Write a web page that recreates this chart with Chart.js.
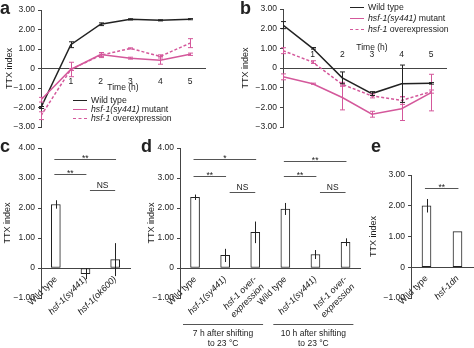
<!DOCTYPE html>
<html>
<head>
<meta charset="utf-8">
<script src="https://cdn.jsdelivr.net/npm/chart.js@4.4.1/dist/chart.umd.min.js"></script>
<style>
  html, body { margin: 0; padding: 0; background: #fff; }
  #fig { position: relative; width: 474px; height: 348px; overflow: hidden;
         font-family: 'Liberation Sans', Arial, sans-serif; color: #222; }
  #fig canvas { position: absolute; }
  .panel { position: absolute; font-weight: bold; font-size: 18px; line-height: 18px; }
  .txt { position: absolute; font-size: 8.5px; line-height: 10px; white-space: nowrap; transform: translateX(-50%); }
  .key { position: absolute; font-size: 8.7px; white-space: pre; }
  .key .sw { display: inline-block; width: 14px; height: 0; border-top-width: 1.5px;
             margin-right: 4px; vertical-align: middle; }
</style>
</head>
<body>
<div id="fig">
  <canvas id="chartA" width="230" height="140" style="left:0;top:0"></canvas>
  <canvas id="chartB" width="240" height="140" style="left:234px;top:0"></canvas>
  <canvas id="chartC" width="135" height="208" style="left:0;top:140px"></canvas>
  <canvas id="chartD" width="232" height="208" style="left:135px;top:140px"></canvas>
  <canvas id="chartE" width="107" height="208" style="left:367px;top:140px"></canvas>

  <div class="panel" style="left:0;top:-1px">a</div>
  <div class="panel" style="left:240px;top:-1px">b</div>
  <div class="panel" style="left:0;top:137px">c</div>
  <div class="panel" style="left:141px;top:137px">d</div>
  <div class="panel" style="left:371px;top:137px">e</div>

  <div class="txt" style="left:123px;top:82px">Time (h)</div>
  <div class="txt" style="left:372px;top:42px">Time (h)</div>

  <div class="key" id="keyA" style="left:73px;top:96px;line-height:9px"></div>
  <div class="key" id="keyB" style="left:350px;top:2px;line-height:11px"></div>
</div>

<script>
// time course (h) and axis ticks
const hours = [0, 1, 2, 3, 4, 5];
const hourTicks = [1, 2, 3, 4, 5];
const lineTicks = [3, 2, 1, 0, -1, -2, -3];
const barTicks = [4, 3, 2, 1, 0, -1];
const eTicks = [3, 2, 1, 0, -1];

const seriesNames = ['Wild type', 'hsf-1(sy441) mutant', 'hsf-1 overexpression'];

// a: TTX index over time
const aWild = [-2.0, 1.22, 2.27, 2.52, 2.47, 2.53];
const aWildErr = [0.05, 0.15, 0.07, 0.03, 0.03, 0.03];
const aMutant = [-1.6, -0.05, 0.72, 0.53, 0.42, 0.73];
const aMutantErr = [0.12, 0.05, 0.1, 0.05, 0.2, 0.06];
const aOver = [-2.42, -0.05, 0.68, 1.03, 0.62, 1.3];
const aOverErr = [0.2, 0.37, 0.12, 0.03, 0.08, 0.23];

// b: TTX index over time
const bWild = [2.18, 1.0, -0.5, -1.3, -0.8, -0.78];
const bWildErr = [0.18, 0.04, 0.3, 0.1, 0.95, 0.04];
const bMutant = [-0.45, -0.8, -1.5, -2.35, -2.07, -1.25];
const bMutantErr = [0.15, 0.03, 0.63, 0.15, 0.6, 0.93];
const bOver = [0.88, 0.3, -0.83, -1.42, -1.65, -1.2];
const bOverErr = [0.15, 0.07, 0.1, 0.1, 0.2, 0.08];

// c
const cLabels = ['Wild type', 'hsf-1(sy441)', 'hsf-1(ok600)'];
const cValues = [2.12, -0.19, 0.28];
const cErr = [0.14, 0.18, 0.55];
const cSig = [['**', 0, 2], ['**', 0, 1], ['NS', 1, 2]];

// d
const dLabels = ['Wild type', 'hsf-1(sy441)', ['hsf-1 over-', 'expression'],
                 'Wild type', 'hsf-1(sy441)', ['hsf-1 over-', 'expression']];
const dValues = [2.36, 0.42, 1.19, 1.97, 0.45, 0.86];
const dErr = [0.09, 0.22, 0.36, 0.2, 0.15, 0.13];
const dSig = [['*', 0, 2], ['**', 0, 1], ['NS', 1, 2], ['**', 3, 5], ['**', 3, 4], ['NS', 4, 5]];
const dGroups = [[0, 2, ['7 h after shifting', 'to 23 °C']], [3, 5, ['10 h after shifting', 'to 23 °C']]];

// e
const eLabels = ['Wild type', 'hsf-1dn'];
const eValues = [2.0, 1.16];
const eErr = [0.22, 0];
const eSig = [['**', 0, 1]];

const family = "'Liberation Sans', Arial, sans-serif";
const ink = '#222';
const axisInk = '#444';
const pink = '#d4589b';
const seriesColors = [ink, pink, pink];
const seriesDash = [[], [], [3, 2]];
const tickFont = { family, size: 8.5 };

const fmt = v => v === 0 ? '0' : (v < 0 ? '\u2212' : '') + Math.abs(v).toFixed(2);

function yAxis(min, max, ticks, width, titlePad) {
  return {
    min, max,
    afterBuildTicks: s => { s.ticks = ticks.map(v => ({ value: v })); },
    afterFit: s => { s.width = width; },
    grid: { display: true, drawOnChartArea: false, drawTicks: true, tickLength: 3, color: axisInk },
    border: { color: axisInk, width: 1 },
    ticks: { font: tickFont, color: ink, padding: 3, callback: fmt },
    title: { display: true, text: 'TTX index', color: ink, font: { family, size: 9 },
             padding: { top: titlePad, bottom: 0 } }
  };
}

function hourAxis(labelPad) {
  return {
    type: 'linear', min: 0, max: 5.5,
    position: { y: 0 },
    afterBuildTicks: s => { s.ticks = hourTicks.map(v => ({ value: v })); },
    grid: { display: false, drawTicks: false },
    border: { color: axisInk, width: 1 },
    ticks: { font: tickFont, color: ink, padding: labelPad, maxRotation: 0 }
  };
}

function catAxis() {
  return {
    position: { y: 0 },
    grid: { display: false, drawTicks: false },
    border: { color: axisInk, width: 1 },
    ticks: {
      color: ink, padding: 6, minRotation: 45, maxRotation: 45, autoSkip: false,
      font: c => ({ family, size: 9,
                    style: String(c.tick && c.tick.label).startsWith('hsf') ? 'italic' : 'normal' })
    }
  };
}

// vertical error bars with caps, in each dataset's colour
const lineErrorBars = {
  id: 'lineErrorBars',
  afterDatasetsDraw(chart) {
    const { ctx, scales: { x, y } } = chart;
    chart.data.datasets.forEach(ds => {
      ctx.save();
      ctx.strokeStyle = ds.borderColor;
      ctx.lineWidth = 1;
      ctx.beginPath();
      ds.data.forEach((pt, i) => {
        const err = ds.errors[i];
        const px = Math.round(x.getPixelForValue(pt.x)) + 0.5;
        const top = y.getPixelForValue(pt.y + err);
        const bot = y.getPixelForValue(pt.y - err);
        ctx.moveTo(px, top); ctx.lineTo(px, bot);
        ctx.moveTo(px - 2.5, top); ctx.lineTo(px + 2.5, top);
        ctx.moveTo(px - 2.5, bot); ctx.lineTo(px + 2.5, bot);
      });
      ctx.stroke();
      ctx.restore();
    });
  }
};

// error lines, significance bars and group captions for the bar panels
function barExtras(errors, sig, levels, groups) {
  return {
    id: 'barExtras',
    afterDatasetsDraw(chart) {
      const { ctx, chartArea } = chart;
      const x = chart.scales.x, y = chart.scales.y;
      const values = chart.data.datasets[0].data;
      ctx.save();
      ctx.strokeStyle = ink;
      ctx.lineWidth = 1;
      ctx.beginPath();
      errors.forEach((err, i) => {
        if (!err) return;
        const px = Math.round(x.getPixelForValue(i)) + 0.5;
        ctx.moveTo(px, y.getPixelForValue(values[i] + err));
        ctx.lineTo(px, y.getPixelForValue(values[i] - err));
      });
      ctx.stroke();

      ctx.strokeStyle = '#555';
      ctx.fillStyle = ink;
      ctx.font = `8.5px ${family}`;
      ctx.textAlign = 'center';
      ctx.textBaseline = 'alphabetic';
      sig.forEach(([text, a, b], k) => {
        const x1 = x.getPixelForValue(text === 'NS' ? a + 0.15 : a - 0.05);
        const x2 = x.getPixelForValue(text === 'NS' ? b : b + 0.03);
        const py = Math.round(y.getPixelForValue(levels[k])) + 0.5;
        ctx.beginPath(); ctx.moveTo(x1, py); ctx.lineTo(x2, py); ctx.stroke();
        ctx.fillText(text, (x1 + x2) / 2, text === 'NS' ? py - 3 : py + 1.5);
      });

      groups.forEach(([a, b, lines]) => {
        const x1 = x.getPixelForValue(a - 0.4);
        const x2 = x.getPixelForValue(b + 0.26);
        const py = Math.round(chartArea.bottom + 26) + 0.5;
        ctx.beginPath(); ctx.moveTo(x1, py); ctx.lineTo(x2, py); ctx.stroke();
        const cx = x.getPixelForValue((a + b) / 2 - 0.07);
        ctx.textBaseline = 'middle';
        lines.forEach((t, j) => ctx.fillText(t, cx, py + 9 + j * 10));
      });
      ctx.restore();
    }
  };
}

function timeSeries(values, errors, k) {
  return {
    label: seriesNames[k],
    data: hours.map((h, i) => ({ x: h, y: values[i] })),
    errors,
    borderColor: seriesColors[k],
    borderDash: seriesDash[k],
    borderWidth: 1.5,
    pointRadius: 0,
    tension: 0,
    fill: false
  };
}

function lineChart(id, sets, padding, yWidth, titlePad, labelPad) {
  return new Chart(document.getElementById(id), {
    type: 'line',
    data: { datasets: sets },
    options: {
      responsive: false,
      animation: false,
      layout: { padding },
      plugins: { legend: { display: false }, tooltip: { enabled: false } },
      scales: { x: hourAxis(labelPad), y: yAxis(-3, 3, lineTicks, yWidth, titlePad) }
    },
    plugins: [lineErrorBars]
  });
}

function barChart(id, labels, values, padding, yMax, ticks, yWidth, titlePad, extras) {
  return new Chart(document.getElementById(id), {
    type: 'bar',
    data: {
      labels,
      datasets: [{
        data: values,
        backgroundColor: '#fff',
        borderColor: ink,
        borderWidth: 1,
        borderSkipped: false,
        barThickness: 9
      }]
    },
    options: {
      responsive: false,
      animation: false,
      layout: { padding },
      plugins: { legend: { display: false }, tooltip: { enabled: false } },
      scales: { x: catAxis(), y: yAxis(-1, yMax, ticks, yWidth, titlePad) }
    },
    plugins: [extras]
  });
}

lineChart('chartA',
  [timeSeries(aMutant, aMutantErr, 1), timeSeries(aOver, aOverErr, 2), timeSeries(aWild, aWildErr, 0)],
  { top: 10, right: 25, bottom: 13, left: 0 }, 41, 4, 8);

lineChart('chartB',
  [timeSeries(bMutant, bMutantErr, 1), timeSeries(bOver, bOverErr, 2), timeSeries(bWild, bWildErr, 0)],
  { top: 9, right: 28, bottom: 13, left: 0 }, 49, 6, -18);

barChart('chartC', cLabels, cValues, { top: 7, right: 5, bottom: 50, left: 0 }, 4, barTicks, 41, 2,
  barExtras(cErr, cSig, [3.65, 3.12, 2.6], []));

barChart('chartD', dLabels, dValues, { top: 7, right: 2, bottom: 50, left: 0 }, 4, barTicks, 45, 11,
  barExtras(dErr, dSig, [3.65, 3.06, 2.53, 3.58, 3.06, 2.53], dGroups));

barChart('chartE', eLabels, eValues, { top: 35, right: 1, bottom: 50, left: 0 }, 3, eTicks, 44, 1,
  barExtras(eErr, eSig, [2.57], []));

// legends with italic gene names
function fillKey(el) {
  seriesNames.forEach((name, k) => {
    const row = document.createElement('div');
    const sw = document.createElement('span');
    sw.className = 'sw';
    sw.style.borderTopStyle = seriesDash[k].length ? 'dashed' : 'solid';
    sw.style.borderTopColor = seriesColors[k];
    row.appendChild(sw);
    const m = name.match(/^(hsf-1(?:\([^)]*\))?)(.*)$/);
    if (m) {
      const it = document.createElement('i');
      it.textContent = m[1];
      row.appendChild(it);
      row.appendChild(document.createTextNode(m[2]));
    } else {
      row.appendChild(document.createTextNode(name));
    }
    el.appendChild(row);
  });
}
fillKey(document.getElementById('keyA'));
fillKey(document.getElementById('keyB'));
</script>
</body>
</html>
